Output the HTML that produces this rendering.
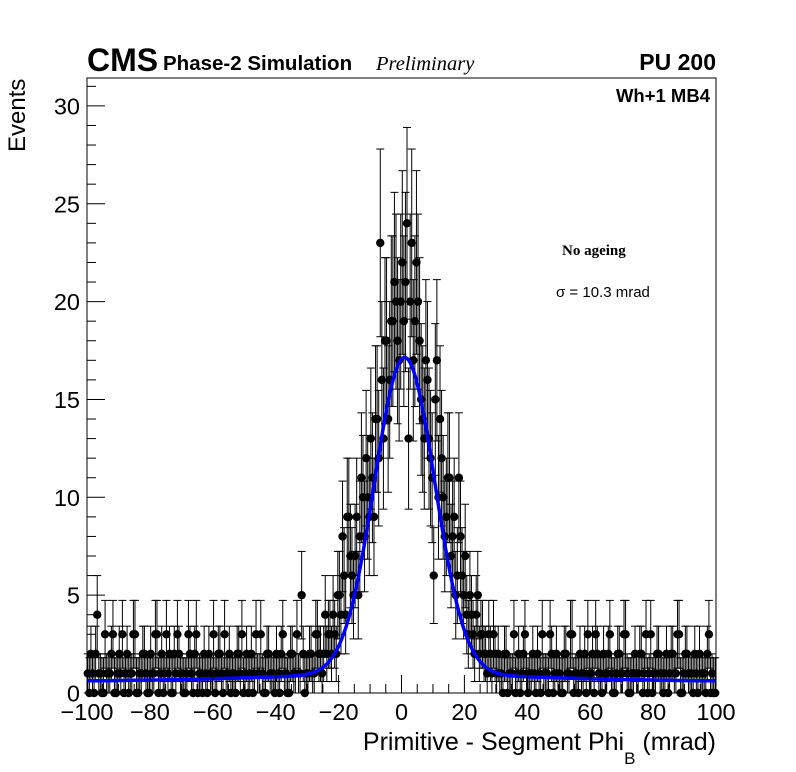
<!DOCTYPE html>
<html><head><meta charset="utf-8"><style>
html,body{margin:0;padding:0;background:#fff;}
svg{display:block;font-family:"Liberation Sans",sans-serif;}
</style></head><body>
<svg id="chart" width="796" height="772" viewBox="0 0 796 772">
<rect x="0" y="0" width="796" height="772" fill="#fff"/>
<g id="marks"></g>
<path id="fit" fill="none" stroke="#0000ff" stroke-width="3.5"/>
<rect x="87" y="78" width="629" height="615" fill="none" stroke="#000" stroke-width="1"/>
<g id="axes"></g>
<text x="87" y="71" font-size="32" font-weight="bold">CMS</text>
<text x="163" y="70" font-size="20.5" font-weight="bold">Phase-2 Simulation</text>
<text x="376" y="70" font-size="20.5" font-style="italic" font-family="Liberation Serif, serif">Preliminary</text>
<text x="716" y="70" font-size="23" font-weight="bold" text-anchor="end">PU 200</text>
<text x="710" y="102" font-size="18.5" font-weight="bold" text-anchor="end">Wh+1 MB4</text>
<text x="562" y="255" font-size="15" font-weight="bold" font-family="Liberation Serif, serif">No ageing</text>
<text x="556" y="297" font-size="15">σ = 10.3 mrad</text>
<text x="716" y="750" font-size="25" text-anchor="end">Primitive - Segment Phi<tspan font-size="17" dy="14">B</tspan><tspan dy="-14"> (mrad)</tspan></text>
<text transform="translate(25,152) rotate(-90)" font-size="24">Events</text>
</svg>
<script>
const leftTail=[1,2,0,4,1,0,1,1,3,0,2,3,1,0,1,3,0,1,2,0,2,1,3,1,0,3,2,0,1,2,1,0,3,1,2,0,1,2,0,1,3,1,2,0,1,2,1,0,2,3,1,0,2,1,1,3,0,2,1,1,2,0,3,1,0,2,1,1,5,0];
const center=[1,2,1,3,2,2,2,3,4,2,5,8,4,9,6,7,5,11,8,10,13,9,14,23,13,18,16,19,20,17,22,21,13,23,19,20,15,13,16,12,6,17,14,10,9,11,8,5,11,6,7,3,4,2,5,3,2,1,2,3,1];
const rightTail=[1,0,2,1,1,0,2,1,3,0,1,1,2,0,1,1,3,0,2,1,0,2,1,3,1,0,1,2,3,1,0,2,1,2,1,3,0,1,2,1,3,0,1,2,1,2,1,0,3,1,2,1,0,2,1,2,1,3,0,2,1,1,2,0,1,1,2,0,0];
const leftTailB=[0,1,2,1,0,3,1,2,0,1,1,0,2,1,3,0,1,2,1,0,1,3,0,2,1,1,0,2,3,1,0,1,2,0,3,1,0,1,2,1,0,2,1,3,1,0,1,2,1,0,2,1,0,3,1,1,0,2,1,0,1,2,1,0,2,1,3,1,2,1];
const centerB=[2,1,3,2,1,4,3,2,3,5,4,6,9,7,5,9,8,10,12,9,11,14,12,16,18,14,19,21,18,20,19,24,20,17,22,18,14,17,13,11,15,10,12,8,11,7,9,6,8,5,4,5,3,4,2,3,2,3,1,2,2];
const rightTailB=[1,2,0,1,3,1,0,2,1,1,2,0,1,3,1,0,2,1,1,0,2,1,3,0,1,2,1,0,1,2,3,1,0,1,2,1,0,2,1,3,1,0,1,1,2,0,3,1,0,1,2,1,1,0,2,1,3,0,1,2,1,0,1,2,1,0,3,1,0];
const countsA=leftTail.concat(center,rightTail);
const countsB=leftTailB.concat(centerB,rightTailB);
const xTicks=[-100,-80,-60,-40,-20,0,20,40,60,80,100];
const yTicks=[0,5,10,15,20,25,30];
const fitMean=1, fitSigma=9.6, fitAmp=16.2, fitBg=0.6;

const NS="http://www.w3.org/2000/svg";
const X=v=>87+(v+100)*629/200;
const Y=v=>693-v*19.57;
function mk(tag,attrs,parent){const e=document.createElementNS(NS,tag);for(const k in attrs)e.setAttribute(k,attrs[k]);parent.appendChild(e);return e;}
const marks=document.getElementById('marks');
function drawPoint(xc,n){
  const g=mk('g',{},marks);
  
  
  const err=n>0?Math.sqrt(n):1.8;
  const lo=Math.max(0,n-(n>0?Math.sqrt(n):0));
  const hi=n+err;
  mk('line',{x1:X(xc),x2:X(xc),y1:Y(lo),y2:Y(hi),stroke:'#000','stroke-width':1},g);
  mk('line',{x1:X(xc)-4,x2:X(xc)+4,y1:Y(hi),y2:Y(hi),stroke:'#000','stroke-width':1},g);
  if(n>0)mk('line',{x1:X(xc)-4,x2:X(xc)+4,y1:Y(lo),y2:Y(lo),stroke:'#000','stroke-width':1},g);
  mk('circle',{cx:X(xc),cy:Y(n),r:4.2,fill:'#000'},g);
}
countsA.forEach((n,i)=>drawPoint(-99.75+i,n));
countsB.forEach((n,i)=>drawPoint(-99.25+i,n));
let d='';
for(let v=-100;v<=100;v+=0.5){
  const bg=fitBg+0.35*Math.exp(-Math.pow(v/60,2));
  const f=bg+fitAmp*Math.exp(-0.5*Math.pow((v-fitMean)/fitSigma,2));
  d+=(d?'L':'M')+X(v).toFixed(1)+','+Y(f).toFixed(1);
}
document.getElementById('fit').setAttribute('d',d);
const ax=document.getElementById('axes');
for(let v=-100;v<=100;v+=5){
  const major=v%20===0;
  mk('line',{x1:X(v),x2:X(v),y1:693,y2:693-(major?18:9),stroke:'#000','stroke-width':1},ax);
}
xTicks.forEach(v=>{
  const t=mk('text',{x:X(v),y:720,'font-size':23.5,'text-anchor':'middle'},ax);
  t.textContent=(v<0?'\u2212'+(-v):v);
  
  
});
for(let v=0;v<=31;v+=1){
  const major=v%5===0;
  mk('line',{x1:87,x2:87+(major?18:9),y1:Y(v),y2:Y(v),stroke:'#000','stroke-width':1},ax);
}
yTicks.forEach(v=>{
  const t=mk('text',{x:80,y:Y(v)+8.5,'font-size':23.5,'text-anchor':'end'},ax);
  t.textContent=v;
  
  
});
</script>
</body></html>
